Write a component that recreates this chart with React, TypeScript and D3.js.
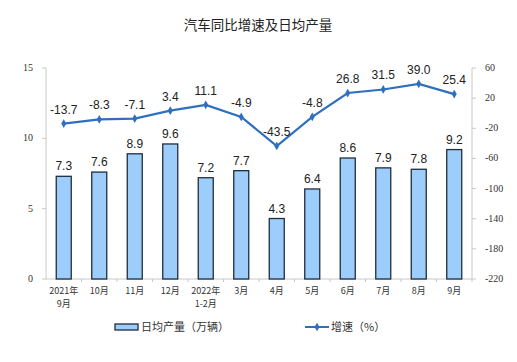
import React from "react";
import * as d3 from "d3";

const categories = ["2021年\n9月", "10月", "11月", "12月", "2022年\n1-2月", "3月", "4月", "5月", "6月", "7月", "8月", "9月"];
const dailyOutput = [7.3, 7.6, 8.9, 9.6, 7.2, 7.7, 4.3, 6.4, 8.6, 7.9, 7.8, 9.2];
const growth = [-13.7, -8.3, -7.1, 3.4, 11.1, -4.9, -43.5, -4.8, 26.8, 31.5, 39.0, 25.4];
const leftTicks = [0, 5, 10, 15];
const rightTicks = [60, 20, -20, -60, -100, -140, -180, -220];

const W = 517, H = 362;
const left = 46, right = 472, top = 68, bottom = 279;
const CJK = '"Noto Sans CJK SC", sans-serif';
const SERIF = '"Liberation Serif", "DejaVu Serif", serif';
const SANS = '"Liberation Sans", Arial, sans-serif';

export default function App() {
  const x = d3.scaleBand<string>().domain(categories).range([left, right]);
  const yL = d3.scaleLinear().domain([0, 15]).range([bottom, top]);
  const yR = d3.scaleLinear().domain([-220, 60]).range([bottom, top]);
  const bw = 15;
  const cx = (c: string) => (x(c) as number) + x.bandwidth() / 2;
  const line = d3.line<number>().x((_, i) => cx(categories[i])).y((d) => yR(d));
  const diamond = d3.symbol().type(d3.symbolDiamond).size(22)() as string;
  const lineColor = "#2e6fbf";

  return (
    <svg width={W} height={H} style={{ position: "absolute", left: 0, top: 0, background: "#fff" }}>
      <text x={258} y={30} textAnchor="middle" fontFamily={CJK} fontSize={13.5} fill="#222">汽车同比增速及日均产量</text>
      {/* axes */}
      <line x1={left} x2={left} y1={top} y2={bottom} stroke="#c8c8c8" />
      <line x1={right} x2={right} y1={top} y2={bottom} stroke="#c8c8c8" />
      <line x1={left} x2={right} y1={bottom} y2={bottom} stroke="#c8c8c8" />
      {leftTicks.map((t) => (
        <g key={"l" + t}>
          <line x1={left - 4} x2={left} y1={yL(t)} y2={yL(t)} stroke="#c8c8c8" />
          <text x={33} y={yL(t) + 3} textAnchor="end" fontFamily={SERIF} fontSize={10} fill="#333">{t}</text>
        </g>
      ))}
      {rightTicks.map((t) => (
        <g key={"r" + t}>
          <line x1={right} x2={right + 4} y1={yR(t)} y2={yR(t)} stroke="#c8c8c8" />
          <text x={485} y={yR(t) + 3} textAnchor="start" fontFamily={SERIF} fontSize={10} fill="#333">{t}</text>
        </g>
      ))}
      {categories.map((c, i) => (
        <line key={"xt" + i} x1={(x(c) as number) + x.bandwidth()} x2={(x(c) as number) + x.bandwidth()} y1={bottom} y2={bottom + 3} stroke="#c8c8c8" />
      ))}
      {/* bars */}
      {dailyOutput.map((v, i) => (
        <g key={"b" + i}>
          <rect x={cx(categories[i]) - bw / 2} y={yL(v)} width={bw} height={bottom - yL(v)} fill="#9dcdfa" stroke="#1f2d3d" strokeWidth={1.3} />
          <text x={cx(categories[i])} y={yL(v) - 6} textAnchor="middle" fontFamily={SANS} fontSize={12} fill="#222">{v.toFixed(1)}</text>
        </g>
      ))}
      {/* line */}
      <path d={line(growth) as string} fill="none" stroke={lineColor} strokeWidth={2.2} />
      {growth.map((v, i) => (
        <g key={"p" + i}>
          <path d={diamond} transform={`translate(${cx(categories[i])},${yR(v)})`} fill={lineColor} />
          <text x={cx(categories[i])} y={yR(v) - 10} textAnchor="middle" fontFamily={SANS} fontSize={12} fill="#222">{v.toFixed(1)}</text>
        </g>
      ))}
      {/* x labels */}
      {categories.map((c, i) =>
        c.split("\n").map((s, j) => (
          <text key={"xl" + i + "_" + j} x={cx(c)} y={293.5 + j * 13} textAnchor="middle" fontFamily={CJK} fontSize={9} fill="#333">{s}</text>
        ))
      )}
      {/* legend */}
      <rect x={115} y={324} width={23} height={6} fill="#9dcdfa" stroke="#1f2d3d" strokeWidth={1.3} />
      <text x={141} y={331} fontFamily={CJK} fontSize={11} fill="#333">日均产量（万辆）</text>
      <line x1={305} x2={329} y1={327} y2={327} stroke={lineColor} strokeWidth={2} />
      <path d={diamond} transform="translate(317,327)" fill={lineColor} />
      <text x={331} y={331} fontFamily={CJK} fontSize={11} fill="#333">增速（%）</text>
    </svg>
  );
}
